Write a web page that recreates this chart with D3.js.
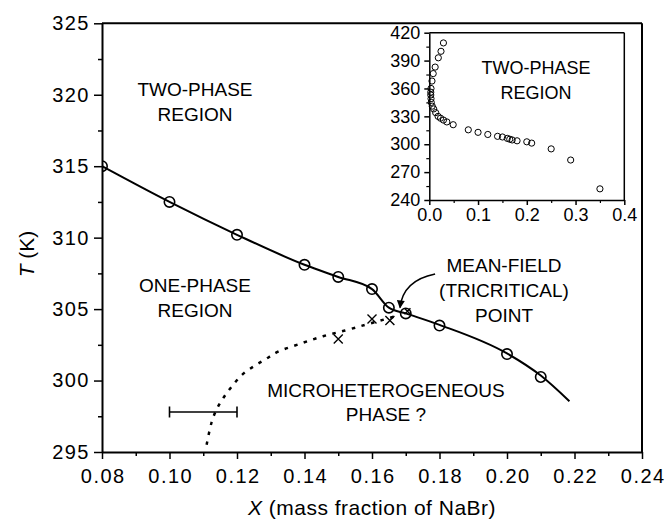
<!DOCTYPE html>
<html><head><meta charset="utf-8">
<script src="https://cdn.jsdelivr.net/npm/d3@7"></script>
<style>
html,body{margin:0;padding:0;background:#fff;}
text{font-family:"Liberation Sans",Arial,Helvetica,sans-serif;fill:#000;}
</style></head>
<body><svg id="c" width="667" height="527"></svg>
<script>
// ---- data ----
const phaseX = [0.08,0.10,0.12,0.14,0.15,0.16,0.165,0.17,0.18,0.20,0.21];
const phaseT = [315.0,312.5,310.2,308.1,307.25,306.4,305.1,304.7,303.85,301.85,300.25];
const fitX = [0.08,0.10,0.12,0.14,0.15,0.16,0.165,0.17,0.18,0.20,0.21,0.2185];
const fitT = [315.0,312.5,310.2,308.1,307.25,306.4,305.1,304.7,303.9,301.9,300.35,298.55];
const crossX = [0.15,0.16,0.1653,0.1705];
const crossT = [302.9,304.3,304.2,304.85];
const dotX = [0.1110,0.1125,0.1140,0.1160,0.1185,0.1215,0.1250,0.1285,0.1320,0.1390,0.1455,0.1520,0.1580,0.1625,0.1670];
const dotT = [295.5,297.1,298.0,298.8,299.6,300.4,301.0,301.5,302.0,302.6,303.1,303.5,303.9,304.2,304.5];
const errX = [0.10,0.12], errT = 297.8;
const insetX = [0.029,0.024,0.0185,0.012,0.008,0.0055,0.0035,0.003,0.003,0.0035,0.004,0.006,0.009,0.013,0.018,0.023,0.029,0.036,0.049,0.08,0.10,0.12,0.14,0.15,0.16,0.165,0.17,0.18,0.20,0.21,0.25,0.29,0.35];
const insetT = [409,400,393,383,376,368,360,356,353,349,345,341,338,334,330,328,326,324,321,315.5,312.8,310.5,308.5,307.8,306.3,305.4,304.6,303.7,302.6,301.2,295,283,252];
const xTicks = [0.08,0.10,0.12,0.14,0.16,0.18,0.20,0.22,0.24];
const yTicks = [295,300,305,310,315,320,325];
const ixTicks = [0.0,0.1,0.2,0.3,0.4];
const iyTicks = [240,270,300,330,360,390,420];

const svg = d3.select('#c');
const x = d3.scaleLinear([0.08,0.24],[102,642]);
const y = d3.scaleLinear([295,325],[452,23.3]);
const xi = d3.scaleLinear([0,0.4],[429.3,624.3]);
const yi = d3.scaleLinear([240,420],[200,32.7]);

svg.append('defs').append('clipPath').attr('id','pc').append('rect')
  .attr('x',x(0.08)).attr('y',y(325)).attr('width',x(0.24)-x(0.08)).attr('height',y(295)-y(325));
const defs = svg.select('defs');
defs.append('marker').attr('id','ah').attr('viewBox','0 0 10 10').attr('refX',9).attr('refY',5)
  .attr('markerWidth',9).attr('markerHeight',8).attr('markerUnits','userSpaceOnUse').attr('orient','auto')
  .append('path').attr('d','M0,0L10,5L0,10Z').attr('fill','#000');

// frame top/right
svg.append('line').attr('x1',x(0.08)).attr('x2',x(0.24)).attr('y1',y(325)).attr('y2',y(325)).attr('stroke','#000').attr('stroke-width',2);
svg.append('line').attr('x1',x(0.24)).attr('x2',x(0.24)).attr('y1',y(325)).attr('y2',y(295)).attr('stroke','#000').attr('stroke-width',2);

// axes
function styleAxis(g, fs, ls){
  g.select('.domain').attr('stroke-width',2);
  g.selectAll('.tick line').attr('stroke-width',1.5);
  g.selectAll('text').attr('font-size',fs).attr('letter-spacing',ls)
   .attr('font-family','"Liberation Sans",Arial,sans-serif').attr('fill','#000');
}
const xMinor = d3.range(0.09,0.24,0.02);
svg.append('g').attr('transform',`translate(0,${y(295)})`)
  .call(d3.axisBottom(x).tickValues(xMinor).tickSize(4).tickFormat(''))
  .call(g=>{g.select('.domain').remove(); g.selectAll('line').attr('stroke-width',1.5);});
const gx = svg.append('g').attr('transform',`translate(0,${y(295)})`)
  .call(d3.axisBottom(x).tickValues(xTicks).tickSize(7).tickSizeOuter(0).tickPadding(10).tickFormat(d3.format('.2f')));
styleAxis(gx,'20px','1.5px');
gx.selectAll('text').attr('dx','0.75px');
const yMinor = d3.range(297.5,325,5);
svg.append('g').attr('transform',`translate(${x(0.08)},0)`)
  .call(d3.axisLeft(y).tickValues(yMinor).tickSize(4).tickFormat(''))
  .call(g=>{g.select('.domain').remove(); g.selectAll('line').attr('stroke-width',1.5);});
const gy = svg.append('g').attr('transform',`translate(${x(0.08)},0)`)
  .call(d3.axisLeft(y).tickValues(yTicks).tickSize(8).tickSizeOuter(0).tickPadding(4).tickFormat(d3.format('d')));
styleAxis(gy,'20px','1.5px');

// axis titles
const xt = svg.append('text').attr('x',(x(0.08)+x(0.24))/2).attr('y',515).attr('text-anchor','middle')
  .attr('font-size','21px').attr('letter-spacing','0.5px');
xt.append('tspan').attr('font-style','italic').text('X');
xt.append('tspan').text(' (mass fraction of NaBr)');
const yt = svg.append('text').attr('transform','translate(34,254) rotate(-90)').attr('text-anchor','middle')
  .attr('font-size','21px');
yt.append('tspan').attr('font-style','italic').text('T');
yt.append('tspan').text(' (K)');

// plot content
const plot = svg.append('g').attr('clip-path','url(#pc)');
plot.append('path').datum(dotX.map((d,i)=>[d,dotT[i]]))
  .attr('d',d3.line().x(d=>x(d[0])).y(d=>y(d[1])).curve(d3.curveCatmullRom))
  .attr('fill','none').attr('stroke','#000').attr('stroke-width',2.5).attr('stroke-dasharray','3.5,6.5');
plot.append('path').datum(fitX.map((d,i)=>[d,fitT[i]]))
  .attr('d',d3.line().x(d=>x(d[0])).y(d=>y(d[1])).curve(d3.curveMonotoneX))
  .attr('fill','none').attr('stroke','#000').attr('stroke-width',2);
plot.selectAll('circle.p').data(phaseX).join('circle').attr('class','p')
  .attr('cx',d=>x(d)).attr('cy',(d,i)=>y(phaseT[i])).attr('r',5.2)
  .attr('fill','none').attr('stroke','#000').attr('stroke-width',1.6);
const cs = 4.5;
plot.selectAll('path.x').data(crossX).join('path').attr('class','x')
  .attr('d',(d,i)=>{const cx=x(d),cy=y(crossT[i]),s=(i===3?3:cs);return `M${cx-s},${cy-s}L${cx+s},${cy+s}M${cx-s},${cy+s}L${cx+s},${cy-s}`;})
  .attr('stroke','#000').attr('stroke-width',1.4).attr('fill','none');
// error bar
const eb = plot.append('g').attr('stroke','#000').attr('stroke-width',1.6);
eb.append('line').attr('x1',x(errX[0])).attr('x2',x(errX[1])).attr('y1',y(errT)).attr('y2',y(errT));
errX.forEach(v=>eb.append('line').attr('x1',x(v)).attr('x2',x(v)).attr('y1',y(errT)-5.5).attr('y2',y(errT)+5.5));

// arrow
svg.append('path')
  .attr('d',`M${x(0.1787)},${y(307.45)} Q${x(0.1692)},${y(307.0)} ${x(0.1683)},${y(305.1)}`)
  .attr('fill','none').attr('stroke','#000').attr('stroke-width',1.5).attr('marker-end','url(#ah)');

// labels
function label(lines, cx, y0, dy, fs){
  const t = svg.append('text').attr('text-anchor','middle').attr('font-size',fs);
  lines.forEach((s,i)=>t.append('tspan').attr('x',cx).attr('y',y0+i*dy).text(s));
}
label(['TWO-PHASE','REGION'],195,96,24.5,'19px');
label(['ONE-PHASE','REGION'],195,292,24.5,'19px');
label(['MICROHETEROGENEOUS','PHASE ?'],386,397,23.5,'19px');
label(['MEAN-FIELD','(TRICRITICAL)','POINT'],504,272,25,'19px');

// inset
const ins = svg.append('g');
ins.append('rect').attr('x',xi(0)).attr('y',yi(420)).attr('width',xi(0.4)-xi(0)).attr('height',yi(240)-yi(420))
  .attr('fill','#fff').attr('stroke','none');
ins.append('line').attr('x1',xi(0)).attr('x2',xi(0.4)).attr('y1',yi(420)).attr('y2',yi(420)).attr('stroke','#000').attr('stroke-width',1.5);
ins.append('line').attr('x1',xi(0.4)).attr('x2',xi(0.4)).attr('y1',yi(420)).attr('y2',yi(240)).attr('stroke','#000').attr('stroke-width',1.5);
ins.append('g').attr('transform',`translate(0,${yi(240)})`)
  .call(d3.axisBottom(xi).tickValues(d3.range(0.05,0.4,0.1)).tickSize(3).tickFormat(''))
  .call(g=>{g.select('.domain').remove(); g.selectAll('line').attr('stroke-width',1.2);});
const gix = ins.append('g').attr('transform',`translate(0,${yi(240)})`)
  .call(d3.axisBottom(xi).tickValues(ixTicks).tickSize(5).tickSizeOuter(0).tickPadding(3).tickFormat(d3.format('.1f')));
styleAxis(gix,'18px','0px'); gix.select('.domain').attr('stroke-width',1.5);
ins.append('g').attr('transform',`translate(${xi(0)},0)`)
  .call(d3.axisLeft(yi).tickValues(d3.range(255,420,30)).tickSize(3).tickFormat(''))
  .call(g=>{g.select('.domain').remove(); g.selectAll('line').attr('stroke-width',1.2);});
const giy = ins.append('g').attr('transform',`translate(${xi(0)},0)`)
  .call(d3.axisLeft(yi).tickValues(iyTicks).tickSize(5).tickSizeOuter(0).tickPadding(4).tickFormat(d3.format('d')));
styleAxis(giy,'18px','0px'); giy.select('.domain').attr('stroke-width',1.5);
ins.selectAll('circle.i').data(insetX).join('circle').attr('class','i')
  .attr('cx',d=>xi(d)).attr('cy',(d,i)=>yi(insetT[i])).attr('r',3.1)
  .attr('fill','none').attr('stroke','#000').attr('stroke-width',1);
label(['TWO-PHASE','REGION'],536,74,25,'18px');
</script></body></html>
